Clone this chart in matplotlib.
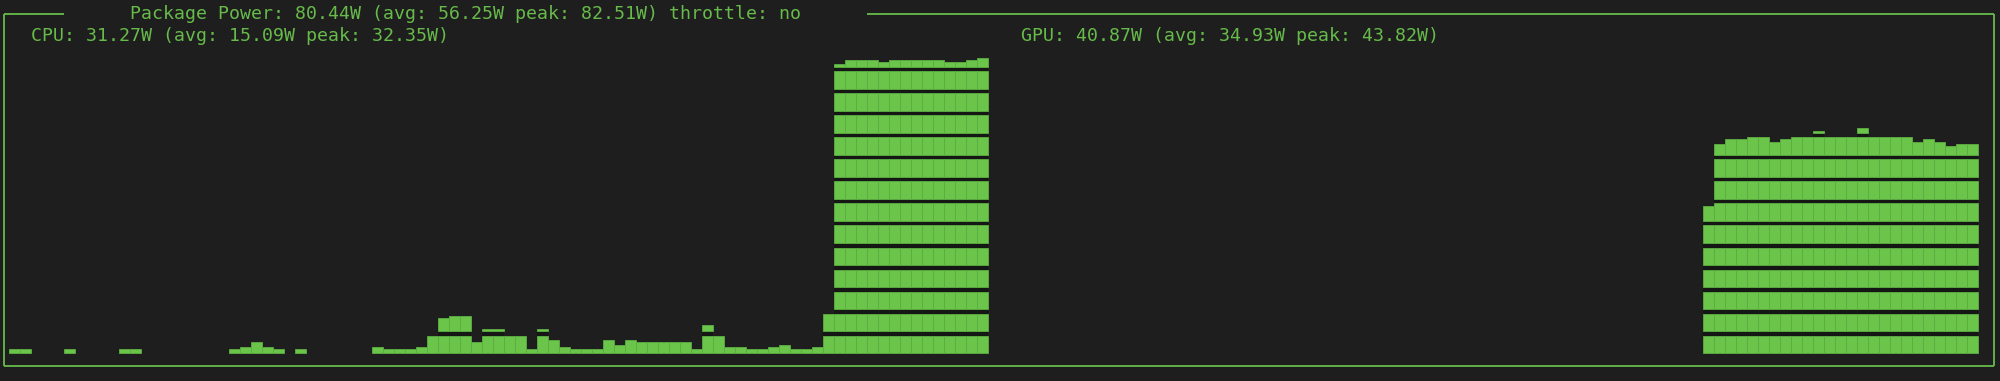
import numpy as np
import matplotlib
matplotlib.use("Agg")
import matplotlib.pyplot as plt

# ---------------- data (heights in eighths of a terminal row; 8 = one full block) -------------
cpu_levels = [2, 2, 0, 0, 0, 2, 0, 0, 0, 0,
              2, 2, 0, 0, 0, 0, 0, 0, 0, 0,
              2, 3, 5, 3, 2, 0, 2, 0, 0, 0,
              0, 0, 0, 3, 2, 2, 2, 3, 8, 14,
              15, 15, 5, 9, 9, 8, 8, 2, 9, 6,
              3, 2, 2, 2, 6, 4, 6, 5, 5, 5,
              5, 5, 2, 11, 8, 3, 3, 2, 2, 3,
              4, 2, 2, 3, 16, 105, 107, 107, 107, 106,
              107, 107, 107, 107, 107, 106, 106, 107, 108]
gpu_levels = [55, 77, 79, 79, 80, 80, 78, 79, 80, 80,
              81, 80, 80, 80, 82, 80, 80, 80, 80, 78,
              79, 78, 76, 77, 77]

title_text = "Package Power: 80.44W (avg: 56.25W peak: 82.51W) throttle: no"
cpu_text = "CPU: 31.27W (avg: 15.09W peak: 32.35W)"
gpu_text = "GPU: 40.87W (avg: 34.93W peak: 43.82W)"

# ---------------- layout (terminal grid) -------------
W, H, DPI = 2000, 381, 100
COL_W, COL0_X = 11.0, 9.3          # px
ROW_H, BASE_Y = 22.05, 353.3       # px
GLYPH = 17.6 / ROW_H               # filled fraction of a row for a full block
CHART_COLS = 89
CHART_ROWS = 14
CPU_START, GPU_START = 0, 90

BG = "#1e1e1e"
GREEN = "#6cc54b"
EDGE = "#5cae40"
TXT = "#67bb4a"
GAP = "#141714"


def px2col(x):
    return (x - COL0_X) / COL_W


def px2row(y):
    return (BASE_Y - y) / ROW_H


fig = plt.figure(figsize=(W / DPI, H / DPI), dpi=DPI, facecolor=BG)
ax = fig.add_axes([0, 0, 1, 1])
ax.set_facecolor(BG)
ax.set_xlim(px2col(0), px2col(W))
ax.set_ylim(px2row(H), px2row(0))
ax.axis("off")


def draw_chart(levels, start_col):
    levels = np.asarray(levels, dtype=float)
    n = len(levels)
    cols = start_col + CHART_COLS - n + np.arange(n)
    for r in range(CHART_ROWS):
        frac = np.clip(levels - 8 * r, 0, 8) / 8.0
        m = frac > 0
        if not m.any():
            continue
        # dark gap between stacked full rows
        g = levels > 8 * (r + 1)
        if g.any():
            ax.bar(cols[g], 1 - GLYPH, bottom=r + GLYPH, width=1, align="edge",
                   color=GAP, linewidth=0, zorder=1)
        ax.bar(cols[m], frac[m] * GLYPH, bottom=r, width=1, align="edge",
               color=GREEN, edgecolor=EDGE, linewidth=0.6, zorder=2)


draw_chart(cpu_levels, CPU_START)
draw_chart(gpu_levels, GPU_START)

# ---------------- box border -------------
lx, rx = px2col(3.5), px2col(1994.3)
ty, by = px2row(14), px2row(366.3)
lw = 1.3
ax.plot([lx, lx], [ty, by], color=TXT, lw=lw, solid_capstyle="butt")
ax.plot([rx, rx], [ty, by], color=TXT, lw=lw, solid_capstyle="butt")
ax.plot([lx, rx], [by, by], color=TXT, lw=lw, solid_capstyle="butt")
title_col = 11
ax.plot([lx, title_col - 6], [ty, ty], color=TXT, lw=lw, solid_capstyle="butt")
ax.plot([title_col + len(title_text) + 6, rx], [ty, ty], color=TXT, lw=lw,
        solid_capstyle="butt")

# ---------------- texts -------------
fs = COL_W / 0.6021 * 72 / DPI
font = dict(family="DejaVu Sans Mono", size=fs, color=TXT, ha="left", va="baseline")
ax.text(title_col, px2row(19.3), title_text, **font)
ax.text(CPU_START + 2, px2row(41.3), cpu_text, **font)
ax.text(GPU_START + 2, px2row(41.3), gpu_text, **font)

fig.savefig("out.png", dpi=DPI, facecolor=BG)
